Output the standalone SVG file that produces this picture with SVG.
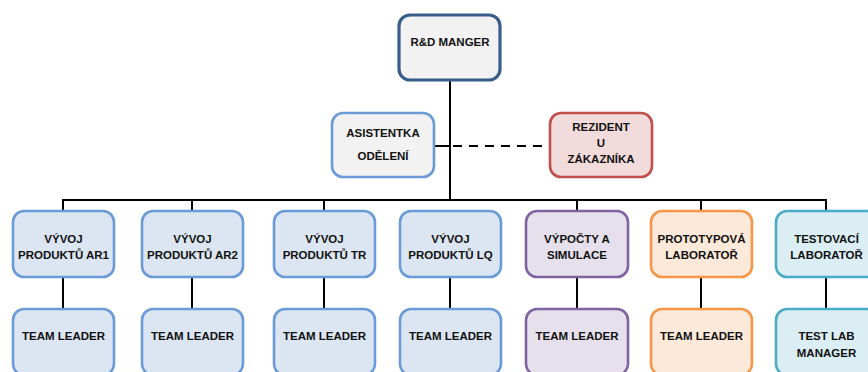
<svg xmlns="http://www.w3.org/2000/svg" width="868" height="372" viewBox="0 0 868 372">
  <style>
    .box { stroke-width: 2.6; }
    .blue { fill: #dce6f2; stroke: #6a9bd8; }
    .grey { fill: #f2f2f2; stroke: #6a9bd8; }
    .top { fill: #f2f2f2; stroke: #385d8a; stroke-width: 3.2; }
    .red { fill: #f2dcdb; stroke: #c0504d; }
    .purple { fill: #e5e0ec; stroke: #8064a2; }
    .orange { fill: #fde9d9; stroke: #f79646; }
    .teal { fill: #dbeef4; stroke: #4bacc6; }
    text { font-family: "Liberation Sans", Arial, sans-serif; font-weight: bold; font-size: 11.5px; fill: #111; text-anchor: middle; dominant-baseline: central; }
    .line { stroke: #000; stroke-width: 2; fill: none; }
    .dash { stroke: #000; stroke-width: 2.2; fill: none; stroke-dasharray: 9 7; }
  </style>

  <g id="connectors">
    <line class="line" x1="450" y1="80" x2="450" y2="200"/>
    <line class="line" x1="434" y1="146" x2="450" y2="146"/>
    <line class="dash" x1="453" y1="146" x2="550" y2="146"/>
    <polyline class="line" points="63,211 63,200 826,200 826,211"/>
    <line class="line" x1="192" y1="200" x2="192" y2="211"/>
    <line class="line" x1="324" y1="200" x2="324" y2="211"/>
    <line class="line" x1="577" y1="200" x2="577" y2="211"/>
    <line class="line" x1="701" y1="200" x2="701" y2="211"/>
    <line class="line" x1="63" y1="277" x2="63" y2="309"/>
    <line class="line" x1="192" y1="277" x2="192" y2="309"/>
    <line class="line" x1="324" y1="277" x2="324" y2="309"/>
    <line class="line" x1="450" y1="277" x2="450" y2="309"/>
    <line class="line" x1="577" y1="277" x2="577" y2="309"/>
    <line class="line" x1="701" y1="277" x2="701" y2="309"/>
    <line class="line" x1="826" y1="277" x2="826" y2="309"/>
  </g>

  <g id="rd-manager">
    <rect class="box top" x="399" y="15" width="101" height="65" rx="11"/>
    <text x="450" y="42">R&amp;D MANGER</text>
  </g>

  <g id="asistentka">
    <rect class="box grey" x="332" y="113" width="102" height="64" rx="11"/>
    <text x="383" y="133">ASISTENTKA</text>
    <text x="383" y="156">ODĚLENÍ</text>
  </g>

  <g id="rezident">
    <rect class="box red" x="550" y="113" width="102" height="64" rx="11"/>
    <text x="601" y="127">REZIDENT</text>
    <text x="601" y="143">U</text>
    <text x="601" y="159">ZÁKAZNÍKA</text>
  </g>

  <g id="vyvoj-ar1">
    <rect class="box blue" x="13" y="211" width="101" height="66" rx="11"/>
    <text x="63.5" y="239">VÝVOJ</text>
    <text x="63.5" y="255">PRODUKTŮ AR1</text>
  </g>
  <g id="vyvoj-ar2">
    <rect class="box blue" x="142" y="211" width="101" height="66" rx="11"/>
    <text x="192.5" y="239">VÝVOJ</text>
    <text x="192.5" y="255">PRODUKTŮ AR2</text>
  </g>
  <g id="vyvoj-tr">
    <rect class="box blue" x="274" y="211" width="101" height="66" rx="11"/>
    <text x="324.5" y="239">VÝVOJ</text>
    <text x="324.5" y="255">PRODUKTŮ TR</text>
  </g>
  <g id="vyvoj-lq">
    <rect class="box blue" x="400" y="211" width="101" height="66" rx="11"/>
    <text x="450.5" y="239">VÝVOJ</text>
    <text x="450.5" y="255">PRODUKTŮ LQ</text>
  </g>
  <g id="vypocty">
    <rect class="box purple" x="526" y="211" width="102" height="66" rx="11"/>
    <text x="577" y="239">VÝPOČTY A</text>
    <text x="577" y="255">SIMULACE</text>
  </g>
  <g id="prototypova">
    <rect class="box orange" x="651" y="211" width="101" height="66" rx="11"/>
    <text x="701.5" y="239">PROTOTYPOVÁ</text>
    <text x="701.5" y="255">LABORATOŘ</text>
  </g>
  <g id="testovaci">
    <rect class="box teal" x="776" y="211" width="101" height="66" rx="11"/>
    <text x="826.5" y="239">TESTOVACÍ</text>
    <text x="826.5" y="255">LABORATOŘ</text>
  </g>

  <g id="leader-ar1">
    <rect class="box blue" x="13" y="309" width="101" height="66" rx="11"/>
    <text x="63.5" y="336">TEAM LEADER</text>
  </g>
  <g id="leader-ar2">
    <rect class="box blue" x="142" y="309" width="101" height="66" rx="11"/>
    <text x="192.5" y="336">TEAM LEADER</text>
  </g>
  <g id="leader-tr">
    <rect class="box blue" x="274" y="309" width="101" height="66" rx="11"/>
    <text x="324.5" y="336">TEAM LEADER</text>
  </g>
  <g id="leader-lq">
    <rect class="box blue" x="400" y="309" width="101" height="66" rx="11"/>
    <text x="450.5" y="336">TEAM LEADER</text>
  </g>
  <g id="leader-vypocty">
    <rect class="box purple" x="526" y="309" width="102" height="66" rx="11"/>
    <text x="577" y="336">TEAM LEADER</text>
  </g>
  <g id="leader-prototypova">
    <rect class="box orange" x="651" y="309" width="101" height="66" rx="11"/>
    <text x="701.5" y="336">TEAM LEADER</text>
  </g>
  <g id="test-lab-manager">
    <rect class="box teal" x="776" y="309" width="101" height="66" rx="11"/>
    <text x="826.5" y="336">TEST LAB</text>
    <text x="826.5" y="353">MANAGER</text>
  </g>
</svg>
